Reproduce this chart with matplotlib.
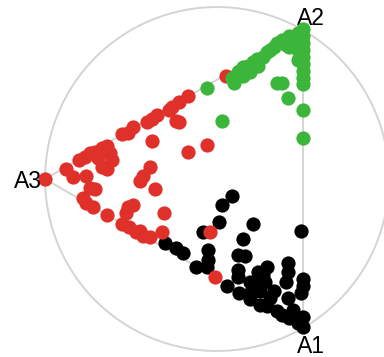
import numpy as np
import matplotlib.pyplot as plt
from matplotlib.patches import Circle

# anchor labels and their angles on the unit circle
anchors = ['A1', 'A2', 'A3']
anchor_deg = [-60, 60, 180]

# projected points per class (unit-circle coordinates)
green_x = [0.50, 0.50, 0.50, 0.50, 0.50, 0.50, 0.50, 0.50, 0.50, 0.50, 0.50,
           0.47, 0.47, 0.47, 0.42, 0.38, 0.35, 0.33, 0.31, 0.29, 0.42,
           0.35, 0.38, 0.41, 0.23, 0.21, 0.18, 0.15, 0.13, 0.12, 0.09,
           0.10, 0.19, 0.24, 0.15, -0.06, 0.03, 0.45, 0.40, 0.27, 0.20]
green_y = [0.87, 0.83, 0.79, 0.75, 0.71, 0.67, 0.63, 0.59, 0.55, 0.40, 0.24,
           0.85, 0.75, 0.69, 0.83, 0.81, 0.79, 0.77, 0.75, 0.74, 0.77,
           0.56, 0.56, 0.47, 0.70, 0.68, 0.66, 0.65, 0.63, 0.62, 0.59,
           0.56, 0.62, 0.66, 0.60, 0.53, 0.34, 0.80, 0.78, 0.71, 0.64]

red_x = [-1.00, -0.88, -0.84, -0.80, -0.77, -0.74, -0.71, -0.67, -0.64, -0.62,
         -0.61, -0.67, -0.64, -0.76, -0.74, -0.71, -0.78, -0.76, -0.72, -0.64,
         -0.55, -0.52, -0.49, -0.41, -0.38, -0.35, -0.28, -0.26, -0.22, -0.17,
         -0.24, -0.22, -0.38, -0.17, -0.06, -0.39, -0.43, -0.45, -0.36, -0.52,
         -0.49, -0.53, -0.55, -0.51, -0.47, -0.43, -0.39, -0.31, -0.32, -0.04,
         -0.01, 0.05, -0.69, -0.45]
red_y = [0.00, 0.06, 0.01, 0.11, 0.13, 0.15, 0.16, 0.18, 0.19, 0.15,
         0.11, 0.07, 0.06, 0.02, -0.05, -0.06, -0.11, -0.14, -0.16, -0.21,
         0.26, 0.27, 0.30, 0.33, 0.35, 0.37, 0.40, 0.42, 0.45, 0.48,
         0.34, 0.33, 0.22, 0.16, 0.20, 0.07, 0.02, -0.01, -0.06, -0.16,
         -0.15, -0.20, -0.26, -0.28, -0.31, -0.33, -0.34, -0.20, -0.31, -0.31,
         -0.57, 0.60, 0.12, -0.30]

black_x = [0.09, 0.03, 0.01, -0.08, 0.21, 0.49, 0.15, -0.05, -0.05, 0.12,
           0.16, -0.12, 0.12, -0.30, -0.24, -0.20, 0.12, 0.06, 0.13, 0.19,
           0.25, 0.28, 0.29, 0.24, 0.41, 0.41, 0.40, 0.50, 0.50, 0.49,
           0.31, 0.41, 0.29, 0.35, 0.38, 0.42, 0.47, 0.50, 0.50, 0.19,
           0.23, 0.33, -0.06, 0.19, 0.25, 0.44, 0.27]
black_y = [-0.10, -0.15, -0.25, -0.31, -0.26, -0.30, -0.35, -0.41, -0.47, -0.44,
           -0.45, -0.51, -0.53, -0.37, -0.40, -0.43, -0.57, -0.62, -0.66, -0.66,
           -0.65, -0.60, -0.51, -0.54, -0.49, -0.54, -0.60, -0.58, -0.62, -0.66,
           -0.69, -0.69, -0.74, -0.77, -0.79, -0.81, -0.84, -0.80, -0.86, -0.60,
           -0.59, -0.65, -0.51, -0.70, -0.73, -0.76, -0.56]

fig = plt.figure(figsize=(3.84, 3.57), dpi=100)
ax = fig.add_axes([0, 0, 1, 1])
ax.set_xlim(-1.262, 0.971)
ax.set_ylim(-1.035, 1.041)
ax.axis('off')

grey = '#d4d4d4'
ax.add_patch(Circle((0, 0), 1.0, facecolor='none', edgecolor=grey, lw=1.4))

rad = np.deg2rad(anchor_deg)
ax_x = np.cos(rad)
ax_y = np.sin(rad)
# triangle between anchors
ax.plot(np.append(ax_x, ax_x[0]), np.append(ax_y, ax_y[0]), color=grey, lw=1.4, zorder=1)

ax.scatter(black_x, black_y, s=105, color='black', linewidths=0, zorder=2)
ax.scatter(red_x, red_y, s=105, color='#e0302a', linewidths=0, zorder=3)
ax.scatter(green_x, green_y, s=105, color='#3cb63a', linewidths=0, zorder=4)

offsets = {'A1': (8, -25, 'center'), 'A2': (8, 5, 'center'), 'A3': (-3, -9, 'right')}
for name, x, y in zip(anchors, ax_x, ax_y):
    dx, dy, ha = offsets[name]
    ax.annotate(name, (x, y), xytext=(dx, dy), textcoords='offset pixels',
                ha=ha, va='baseline', fontsize=16.5, family='Liberation Sans')

fig.savefig('out.png', dpi=100)
